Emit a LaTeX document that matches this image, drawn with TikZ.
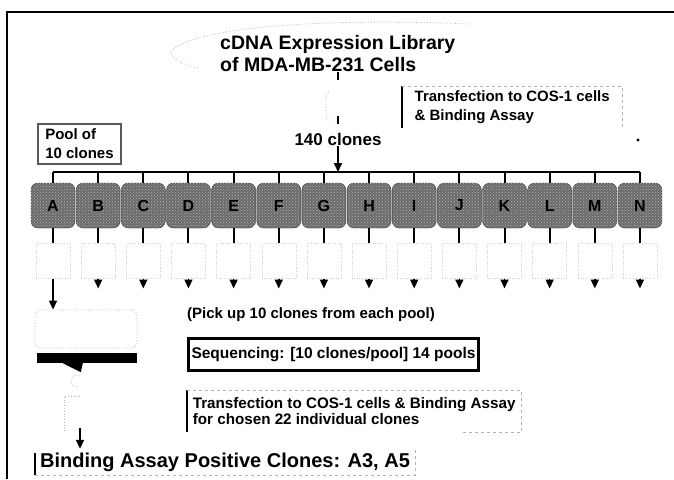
\documentclass[tikz,border=0pt]{standalone}
\usepackage{fontspec}
\setmainfont{Liberation Sans}
\usetikzlibrary{arrows.meta,positioning,patterns}

\begin{document}
\begin{tikzpicture}[x=1pt, y=-1pt,
    txt/.style={font=\bfseries\fontsize{15}{19}\selectfont, inner sep=0pt, align=left},
    big/.style={font=\bfseries\fontsize{19.5}{22}\selectfont, inner sep=0pt, align=left},
    pool/.style={draw=black!80, fill=black!58, rounded corners=7pt, minimum width=44pt,
      minimum height=45pt, inner sep=0pt, font=\bfseries\fontsize{16}{16}\selectfont,
      postaction={pattern=crosshatch dots, pattern color=black!30}},
    ghost/.style={draw=black!18, dotted, minimum width=34pt, minimum height=35pt, inner sep=0pt},
    faint/.style={draw=black!30, dotted, line width=0.8pt},
    link/.style={line width=2pt},
    arr/.style={line width=1.6pt, -{Triangle[width=8pt,length=9pt]}},
  ]
  \useasboundingbox (0,0) rectangle (674,479);
  \draw[line width=1.6pt] (7,479) -- (7,12) -- (674,12);

  % library and the 140 clones
  \node[big, anchor=west] (lib) at (220,54) {cDNA Expression Library\\of MDA-MB-231 Cells};
  \draw[faint] (470,24) .. controls (330,18) and (200,26) .. (172,50)
    .. controls (168,58) and (185,66) .. (198,68);
  \node[font=\bfseries\fontsize{17}{17}\selectfont, inner sep=1pt] (total) at (338,139) {140 clones};
  \draw[line width=1.6pt, dash pattern=on 8pt off 36pt on 8pt off 10pt]
    (lib.south -| total.north) -- (total.north);
  \draw[faint] (329,92) -- (326,94) -- (326,118) -- (329,120);

  \node[txt, anchor=north west, minimum width=220pt, minimum height=42pt] (tfa) at (402,86)
    {Transfection to COS-1 cells\\\& Binding Assay};
  \draw[line width=1.4pt] (tfa.north west) -- (tfa.south west);
  \draw[faint, dashed] (tfa.north west) -- (tfa.north east) -- (tfa.south east);
  \node[circle, fill, inner sep=1.2pt] (speck) at (638,140) {};

  \node[txt, anchor=north west, draw=black!65, line width=2pt, minimum width=83pt,
    minimum height=40pt] (lbl) at (37,123) {Pool of\\10 clones};

  % the 14 pools
  \coordinate (brL) at (53,172);
  \coordinate (brR) at (640,172);
  \draw[link] (brL) -- (brR);
  \draw[arr] (total) -- (total |- brR);
  \foreach \l [count=\i from 0] in {A,B,C,D,E,F,G,H,I,J,K,L,M,N}{
    \node[pool] (p\l) at (53+45.15*\i,205.5) {\l};
    \node[ghost] (g\l) at (53+45.15*\i,261) {};
    \coordinate (t\l) at (53+45.15*\i,288.5);
    \draw[link] (p\l.north) -- (p\l.north |- brL);
    \draw[link] (p\l.south) -- (g\l.north);
  }
  \foreach \l in {B,C,D,E,F,G,H,I,J,K,L,M,N}
    \draw[arr] (g\l.south) -- (t\l);

  % pool A onwards
  \node[faint, rounded corners=6pt, minimum width=102pt, minimum height=38pt] (cloud) at (86,329) {};
  \draw[arr] (gA.south) -- (gA.south |- cloud.north);
  \node[fill=black, minimum width=100pt, minimum height=10pt, inner sep=0pt] (bar) at (87,358) {};
  \fill ([xshift=26pt]bar.south west) -- ([xshift=46pt]bar.south west)
    -- ([xshift=44pt,yshift=-9pt]bar.south west) -- cycle;
  \draw[faint] (80,376) arc[start angle=60, end angle=300, radius=6pt];
  \draw[faint] (80,396) -- (64,396) -- (64,433);
  \coordinate (k) at (80,428);

  \node[txt, anchor=west] (pick) at (187,315) {(Pick up 10 clones from each pool)};
  \node[font=\bfseries\fontsize{15.5}{15.5}\selectfont, anchor=north west, draw, line width=3pt,
    minimum width=288pt, minimum height=32pt, inner xsep=3pt, inner ysep=0pt] (seq) at (187,337)
    {Sequencing: [10 clones/pool] 14 pools};

  \node[font=\bfseries\fontsize{15.2}{16.5}\selectfont, align=left, anchor=north west,
    minimum width=334pt, minimum height=42pt, inner xsep=3pt, inner ysep=0pt]
    (tfb) at (187,390) {Transfection to COS-1 cells \& Binding Assay\\for chosen 22 individual clones};
  \draw[line width=1.4pt] (tfb.north west) -- (tfb.south west);
  \draw[faint, dashed] (tfb.north west) -- (tfb.north east) -- (tfb.south east) -- ([xshift=-60pt]tfb.south east);

  \node[font=\bfseries\fontsize{20}{20}\selectfont, anchor=west, inner xsep=5pt, inner ysep=0pt,
    minimum height=26pt] (bind) at (35,462) {Binding Assay Positive Clones: A3, A5};
  \draw[arr] (k) -- (k |- bind.north);
  \draw[line width=1.4pt] ([yshift=-4pt]bind.north west) -- (bind.south west);
  \draw[faint, dashed] (bind.south west) -- (bind.south east) -- (bind.north east);
\end{tikzpicture}
\end{document}
